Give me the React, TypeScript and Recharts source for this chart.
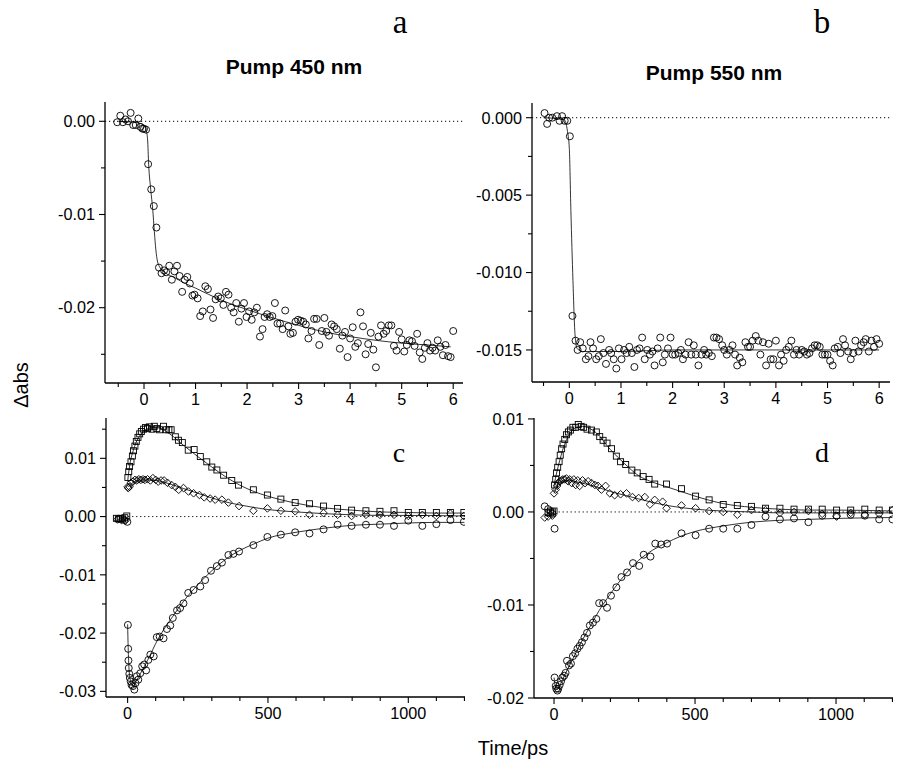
import React from "react";
import {
  ComposedChart, Line, Scatter, XAxis, YAxis, ReferenceLine,
} from "recharts";

type Pt = [number, number];

// ---- panel a: pump 450 nm, short delays ----
const aCircles: Pt[] = [
  [-0.52, -0.0001], [-0.46, 0.0006], [-0.41, -0.0001], [-0.36, 0.0002], [-0.31, 0], [-0.26, 0.0009],
  [-0.21, -0.0004], [-0.16, -0.0004], [-0.11, 0.0003], [-0.07, -0.0006], [-0.03, -0.0008], [0.0, -0.0008],
  [0.04, -0.0009], [0.08, -0.0046], [0.14, -0.0073], [0.19, -0.0091], [0.24, -0.0114], [0.29, -0.0157],
  [0.34, -0.0163], [0.39, -0.016], [0.43, -0.0162], [0.49, -0.0155], [0.54, -0.017], [0.59, -0.0161],
  [0.64, -0.0155], [0.69, -0.0166], [0.74, -0.0183], [0.79, -0.017], [0.84, -0.0167], [0.89, -0.0174],
  [0.94, -0.0187], [0.98, -0.0186], [1.04, -0.019], [1.09, -0.0209], [1.14, -0.0204], [1.19, -0.0177],
  [1.24, -0.018], [1.29, -0.0202], [1.34, -0.0211], [1.39, -0.0191], [1.44, -0.0188], [1.49, -0.019],
  [1.54, -0.0197], [1.59, -0.0183], [1.64, -0.0186], [1.69, -0.02], [1.74, -0.0205], [1.79, -0.0195],
  [1.84, -0.0215], [1.89, -0.0201], [1.94, -0.0195], [1.99, -0.021], [2.04, -0.0204], [2.09, -0.0213],
  [2.14, -0.0205], [2.19, -0.02], [2.25, -0.0231], [2.3, -0.0223], [2.34, -0.021], [2.39, -0.0207],
  [2.44, -0.021], [2.49, -0.0209], [2.54, -0.0195], [2.59, -0.0217], [2.64, -0.0217], [2.69, -0.0223],
  [2.74, -0.0203], [2.8, -0.022], [2.84, -0.0228], [2.89, -0.0227], [2.94, -0.0215], [2.99, -0.0213],
  [3.04, -0.0214], [3.09, -0.0215], [3.14, -0.0218], [3.19, -0.0233], [3.25, -0.0225], [3.3, -0.0212],
  [3.35, -0.0212], [3.4, -0.024], [3.45, -0.0225], [3.5, -0.0211], [3.54, -0.0226], [3.59, -0.023],
  [3.64, -0.0218], [3.69, -0.022], [3.74, -0.0223], [3.8, -0.0244], [3.85, -0.023], [3.9, -0.0226],
  [3.95, -0.0253], [4.0, -0.0233], [4.05, -0.0221], [4.1, -0.0242], [4.15, -0.0238], [4.2, -0.0205],
  [4.25, -0.022], [4.3, -0.025], [4.35, -0.0239], [4.4, -0.0227], [4.45, -0.0245], [4.5, -0.0264],
  [4.55, -0.0231], [4.6, -0.0219], [4.65, -0.0228], [4.7, -0.0225], [4.75, -0.0219], [4.8, -0.0219],
  [4.85, -0.0241], [4.9, -0.0246], [4.95, -0.0226], [5.0, -0.0234], [5.05, -0.0247], [5.1, -0.024],
  [5.15, -0.0235], [5.2, -0.0236], [5.25, -0.0241], [5.3, -0.0228], [5.35, -0.0248], [5.4, -0.0255],
  [5.45, -0.0243], [5.5, -0.0238], [5.55, -0.0246], [5.6, -0.0243], [5.65, -0.0246], [5.7, -0.0235],
  [5.75, -0.0242], [5.8, -0.0251], [5.85, -0.024], [5.9, -0.0252], [5.95, -0.0253], [6.0, -0.0225],
];
const aFit: Pt[] = [
  [-0.5, 0], [-0.2, -0.0001], [0, -0.0004], [0.04, -0.0009], [0.07, -0.002], [0.09, -0.0046],
  [0.13, -0.0073], [0.17, -0.0095], [0.2, -0.0118], [0.23, -0.0138], [0.26, -0.015], [0.3, -0.0156],
  [0.4, -0.0162], [0.6, -0.0168], [0.8, -0.0174], [1, -0.0179], [1.5, -0.0192], [2, -0.0202],
  [2.5, -0.0211], [3, -0.0219], [3.5, -0.0226], [4, -0.0231], [4.5, -0.0235], [5, -0.0238],
  [5.5, -0.024], [5.95, -0.0242],
];

// ---- panel b: pump 550 nm, short delays ----
const bCircles: Pt[] = [
  [-0.48, 0.0003], [-0.43, -0.0004], [-0.39, 0], [-0.33, 0], [-0.24, 0.0001], [-0.19, -0.0002],
  [-0.14, 0.0001], [-0.09, -0.0002], [-0.04, -0.0002], [0.01, -0.0012], [0.06, -0.0128], [0.12, -0.0144],
  [0.16, -0.015], [0.21, -0.0145], [0.26, -0.0149], [0.32, -0.0156], [0.37, -0.0154], [0.41, -0.0145],
  [0.46, -0.0149], [0.52, -0.0156], [0.57, -0.0154], [0.61, -0.0143], [0.66, -0.0152], [0.71, -0.0159],
  [0.77, -0.015], [0.81, -0.0152], [0.86, -0.0156], [0.91, -0.0162], [0.96, -0.0149], [1.01, -0.0156],
  [1.06, -0.015], [1.11, -0.0152], [1.16, -0.0148], [1.21, -0.0152], [1.26, -0.0161], [1.31, -0.015],
  [1.36, -0.0149], [1.41, -0.0142], [1.46, -0.0156], [1.51, -0.015], [1.56, -0.0153], [1.61, -0.0151],
  [1.65, -0.016], [1.71, -0.0149], [1.76, -0.0142], [1.81, -0.0158], [1.85, -0.0153], [1.91, -0.0149],
  [1.96, -0.0142], [2.0, -0.0153], [2.05, -0.0153], [2.11, -0.0152], [2.16, -0.015], [2.2, -0.0156],
  [2.25, -0.0153], [2.31, -0.0145], [2.36, -0.0153], [2.41, -0.0147], [2.45, -0.0153], [2.5, -0.016],
  [2.56, -0.0153], [2.61, -0.015], [2.65, -0.0153], [2.7, -0.0152], [2.76, -0.0154], [2.8, -0.0142],
  [2.85, -0.0142], [2.9, -0.0143], [2.96, -0.0147], [3.0, -0.015], [3.05, -0.0153], [3.1, -0.015],
  [3.16, -0.0147], [3.21, -0.0153], [3.25, -0.016], [3.3, -0.0155], [3.35, -0.0158], [3.41, -0.0145],
  [3.46, -0.0148], [3.5, -0.0148], [3.55, -0.0144], [3.61, -0.0141], [3.66, -0.0144], [3.7, -0.0153],
  [3.75, -0.0145], [3.81, -0.016], [3.86, -0.0146], [3.9, -0.0156], [3.95, -0.0156], [4.0, -0.0144],
  [4.06, -0.016], [4.1, -0.0153], [4.15, -0.0157], [4.2, -0.015], [4.25, -0.0148], [4.3, -0.0144],
  [4.35, -0.0153], [4.4, -0.015], [4.45, -0.0153], [4.5, -0.015], [4.55, -0.0151], [4.6, -0.0153],
  [4.65, -0.0152], [4.7, -0.0149], [4.75, -0.0147], [4.8, -0.0147], [4.85, -0.0148], [4.9, -0.0153],
  [4.95, -0.0153], [5.0, -0.0153], [5.05, -0.0157], [5.1, -0.016], [5.14, -0.0149], [5.2, -0.0148],
  [5.25, -0.0152], [5.3, -0.0143], [5.34, -0.0147], [5.4, -0.0151], [5.45, -0.0156], [5.5, -0.0152],
  [5.54, -0.0144], [5.6, -0.0151], [5.65, -0.0147], [5.7, -0.0145], [5.74, -0.0143], [5.8, -0.0151],
  [5.85, -0.0144], [5.9, -0.0148], [5.95, -0.0143], [6.0, -0.0146],
];
const bFit: Pt[] = [
  [-0.5, 0], [-0.12, -0.0001], [-0.08, -0.0002], [-0.04, -0.0008], [0, -0.002], [0.03, -0.006],
  [0.07, -0.0105], [0.11, -0.014], [0.15, -0.0149], [0.25, -0.0151], [1, -0.0151], [2, -0.015],
  [3, -0.015], [4, -0.015], [5, -0.015], [6, -0.015],
];

// ---- panel c: pump 450 nm, long delays ----
const cSquares: Pt[] = [
  [-40, -0.0003], [-33, -0.0004], [-26, -0.0003], [-18, -0.0004], [-10, -0.0002], [-3, 0.0001],
  [1, 0.0067], [4, 0.0077], [7, 0.0086], [12, 0.0094], [17, 0.0104], [21, 0.0113], [26, 0.0121],
  [31, 0.0129], [37, 0.0136], [43, 0.0142], [49, 0.0146], [57, 0.015], [64, 0.0153], [71, 0.0151],
  [78, 0.0154], [87, 0.015], [95, 0.0155], [104, 0.0151], [114, 0.0149], [128, 0.0155], [138, 0.0149],
  [147, 0.0149], [155, 0.0149], [170, 0.0137], [181, 0.0131], [195, 0.0127], [216, 0.0114],
  [237, 0.0115], [259, 0.0103], [282, 0.0094], [300, 0.0085], [318, 0.008], [342, 0.0071],
  [371, 0.0062], [395, 0.0054], [448, 0.0046], [498, 0.0037], [546, 0.003], [597, 0.0024],
  [648, 0.0022], [698, 0.0018], [748, 0.0014], [798, 0.0011], [849, 0.001], [899, 0.0009],
  [949, 0.001], [1000, 0.0007], [1050, 0.0007], [1100, 0.0007], [1150, 0.0007], [1198, 0.0007],
];
const cDiamonds: Pt[] = [
  [-36, -0.0005], [-22, -0.0006], [-8, -0.0007],
  [0, 0.0051], [2, 0.0049], [7, 0.0051], [12, 0.0058], [19, 0.006], [26, 0.0063], [33, 0.0062],
  [40, 0.0064], [47, 0.0063], [55, 0.0064], [62, 0.0063], [71, 0.0064], [81, 0.0062], [90, 0.0066],
  [100, 0.0063], [109, 0.006], [119, 0.0062], [130, 0.0062], [142, 0.0058], [157, 0.0054],
  [170, 0.0051], [182, 0.0046], [199, 0.0049], [217, 0.0043], [235, 0.004], [256, 0.0037],
  [273, 0.0033], [294, 0.0031], [312, 0.0029], [336, 0.0029], [359, 0.0024], [397, 0.0018],
  [448, 0.001], [498, 0.0014], [546, 0.001], [597, 0.0009], [648, 0.0003], [698, 0.0006],
  [748, 0.0003], [798, 0.0001], [849, 0.0003], [899, 0.0003], [949, 0.0003], [1000, 0.0001],
  [1050, 0.0003], [1100, 0.0001], [1150, 0.0005], [1198, 0.0001],
];
const cCircles: Pt[] = [
  [-30, -0.0004], [-12, -0.0006], [-1, -0.0009],
  [1, -0.0186], [2, -0.0227], [3, -0.0247], [4, -0.026], [6, -0.027], [8, -0.0277], [11, -0.0283],
  [14, -0.0289], [19, -0.0291], [24, -0.0297], [28, -0.0286], [33, -0.0274], [38, -0.028],
  [45, -0.0269], [52, -0.0257], [59, -0.0254], [66, -0.0264], [74, -0.0246], [81, -0.0237],
  [93, -0.024], [104, -0.0207], [114, -0.0206], [128, -0.0209], [140, -0.0193], [152, -0.0187],
  [161, -0.0174], [176, -0.0161], [187, -0.0157], [199, -0.0149], [216, -0.0131], [235, -0.0126],
  [259, -0.012], [276, -0.0109], [297, -0.0093], [318, -0.0085], [336, -0.0079], [359, -0.0066],
  [377, -0.0064], [397, -0.006], [448, -0.0049], [498, -0.0035], [546, -0.0031], [597, -0.0027],
  [648, -0.0029], [698, -0.0022], [748, -0.0014], [798, -0.0016], [849, -0.0014], [899, -0.0014],
  [949, -0.0016], [1000, -0.0007], [1050, -0.0016], [1100, -0.0013], [1150, -0.0006], [1198, -0.0009],
];
const cSquareFit: Pt[] = [
  [0, 0.006], [5, 0.008], [10, 0.0095], [20, 0.0113], [30, 0.0127], [45, 0.014], [60, 0.0148],
  [80, 0.0152], [100, 0.0153], [125, 0.015], [150, 0.0142], [200, 0.0122], [250, 0.0103],
  [300, 0.0085], [350, 0.0068], [400, 0.0054], [450, 0.0043], [500, 0.0035], [600, 0.0023],
  [700, 0.0015], [800, 0.0011], [900, 0.0008], [1000, 0.0007], [1100, 0.0006], [1200, 0.0006],
];
const cDiamondFit: Pt[] = [
  [0, 0.0052], [5, 0.0052], [15, 0.0057], [30, 0.0061], [60, 0.0063], [100, 0.0062], [150, 0.0056],
  [200, 0.0048], [250, 0.004], [300, 0.0032], [350, 0.0025], [400, 0.002], [500, 0.0012],
  [600, 0.0008], [700, 0.0005], [800, 0.0003], [900, 0.0002], [1000, 0.0002], [1200, 0.0001],
];
const cCircleFit: Pt[] = [
  [0, -0.0185], [2, -0.0225], [5, -0.0262], [10, -0.0282], [15, -0.029], [22, -0.029], [30, -0.0283],
  [45, -0.027], [60, -0.0257], [80, -0.0238], [100, -0.0218], [130, -0.0193], [160, -0.0172],
  [200, -0.0145], [250, -0.0117], [300, -0.0093], [350, -0.0073], [400, -0.0058], [450, -0.0047],
  [500, -0.0037], [600, -0.0027], [700, -0.002], [800, -0.0015], [900, -0.0013], [1000, -0.0011],
  [1100, -0.001], [1200, -0.001],
];

// ---- panel d: pump 550 nm, long delays ----
const dSquares: Pt[] = [
  [-21, -0.0001], [-13, -0.0001], [-6, 0], [0, 0.0001],
  [2, 0.0029], [6, 0.0035], [9, 0.0042], [13, 0.0048], [18, 0.0054], [22, 0.0061], [27, 0.0068],
  [32, 0.0073], [38, 0.0078], [44, 0.0083], [51, 0.0086], [58, 0.0088], [67, 0.0091], [77, 0.0091],
  [86, 0.0094], [96, 0.0092], [105, 0.0091], [117, 0.0089], [133, 0.0088], [150, 0.0086],
  [162, 0.0081], [174, 0.0077], [188, 0.0074], [204, 0.0068], [221, 0.006], [236, 0.0054],
  [254, 0.0051], [276, 0.0045], [295, 0.0042], [316, 0.0038], [337, 0.0035], [357, 0.003],
  [399, 0.003], [452, 0.0025], [502, 0.0017], [550, 0.0013], [600, 0.0008], [650, 0.0007],
  [700, 0.0006], [750, 0.0004], [801, 0.0004], [851, 0.0003], [902, 0.0003], [951, 0.0003],
  [1002, 0.0002], [1052, 0.0002], [1102, 0.0003], [1153, 0.0002], [1200, 0.0002],
];
const dDiamonds: Pt[] = [
  [-33, -0.0006], [-21, -0.0005], [-6, -0.0004],
  [0, 0.002], [6, 0.0024], [11, 0.0028], [15, 0.0031], [20, 0.0033], [26, 0.0034], [32, 0.0035],
  [38, 0.0035], [44, 0.0036], [50, 0.0033], [56, 0.0035], [63, 0.0031], [70, 0.0035], [77, 0.0029],
  [84, 0.0034], [91, 0.0028], [101, 0.0034], [110, 0.0031], [121, 0.0033], [133, 0.0031],
  [145, 0.0029], [156, 0.0028], [168, 0.0024], [183, 0.0028], [198, 0.002], [215, 0.0018],
  [236, 0.0019], [257, 0.002], [278, 0.0016], [300, 0.0015], [322, 0.0016], [340, 0.0008],
  [357, 0.0013], [385, 0.0011], [399, 0.0004], [452, 0.0007], [502, 0.0004], [550, 0.0001],
  [600, 0], [650, -0.0003], [700, 0.0002], [750, 0.0002], [801, -0.0001], [851, 0], [902, 0.0001],
  [951, -0.0002], [1002, -0.0005], [1052, -0.0001], [1102, -0.0003], [1153, -0.0002], [1200, 0.0002],
];
const dCircles: Pt[] = [
  [-33, 0.0006], [-21, 0.0003], [-13, 0.0001], [-6, -0.0002], [2, -0.0018],
  [2, -0.0178], [6, -0.0187], [8, -0.019], [12, -0.0192], [15, -0.019], [20, -0.0186], [25, -0.0182],
  [30, -0.0178], [36, -0.0176], [41, -0.0173], [46, -0.016], [53, -0.0165], [60, -0.0163],
  [67, -0.0155], [75, -0.0152], [83, -0.0147], [91, -0.0144], [99, -0.014], [108, -0.0135],
  [117, -0.013], [127, -0.0122], [138, -0.0119], [150, -0.0115], [160, -0.0098], [174, -0.0098],
  [188, -0.0103], [202, -0.009], [221, -0.0081], [239, -0.007], [259, -0.0065], [280, -0.0055],
  [302, -0.0058], [318, -0.0046], [342, -0.0048], [359, -0.0034], [380, -0.0035], [401, -0.0034],
  [452, -0.0023], [502, -0.0025], [550, -0.0018], [600, -0.0018], [650, -0.0018], [700, -0.0014],
  [750, -0.0005], [801, -0.0008], [851, -0.0007], [902, -0.0011], [951, -0.0004], [1002, -0.0004],
  [1052, -0.0003], [1102, -0.0004], [1153, -0.0008], [1200, -0.0008],
];
const dSquareFit: Pt[] = [
  [0, 0.0028], [5, 0.0036], [10, 0.0043], [20, 0.0055], [30, 0.0066], [45, 0.0078], [60, 0.0086],
  [80, 0.0091], [100, 0.0092], [125, 0.009], [150, 0.0085], [200, 0.0067], [250, 0.0052],
  [300, 0.0039], [350, 0.0032], [400, 0.0027], [450, 0.0022], [500, 0.0017], [600, 0.0009],
  [700, 0.0005], [800, 0.0003], [900, 0.0002], [1000, 0.0002], [1200, 0.0001],
];
const dDiamondFit: Pt[] = [
  [0, 0.002], [10, 0.0027], [20, 0.0031], [40, 0.0034], [70, 0.0033], [100, 0.0031], [150, 0.0027],
  [200, 0.0022], [250, 0.0018], [300, 0.0014], [400, 0.0007], [500, 0.0003], [600, 0.0001],
  [700, 0], [800, -0.0001], [1000, -0.0001], [1200, -0.0001],
];
const dCircleFit: Pt[] = [
  [0, -0.0178], [5, -0.0188], [10, -0.0191], [15, -0.019], [25, -0.0184], [40, -0.0174],
  [60, -0.0162], [80, -0.015], [100, -0.0138], [130, -0.0122], [160, -0.0106], [200, -0.0088],
  [250, -0.0068], [300, -0.0052], [350, -0.0041], [400, -0.0033], [450, -0.0026], [500, -0.0021],
  [600, -0.0015], [700, -0.0011], [800, -0.0009], [900, -0.0008], [1000, -0.0007], [1200, -0.0006],
];

// ---- ticks ----
const xTicksShort = [-0.5, 0, 0.5, 1, 1.5, 2, 2.5, 3, 3.5, 4, 4.5, 5, 5.5, 6];
const xMajorShort = [0, 1, 2, 3, 4, 5, 6];
const xTicksLong = [0, 100, 200, 300, 400, 500, 600, 700, 800, 900, 1000, 1100, 1200];
const xMajorLong = [0, 500, 1000];
const yTicksA = [-0.025, -0.02, -0.015, -0.01, -0.005, 0];
const yMajorA = [-0.02, -0.01, 0];
const yTicksB = [-0.015, -0.0125, -0.01, -0.0075, -0.005, -0.0025, 0];
const yMajorB = [-0.015, -0.01, -0.005, 0];
const yTicksC = [-0.03, -0.025, -0.02, -0.015, -0.01, -0.005, 0, 0.005, 0.01, 0.015];
const yMajorC = [-0.03, -0.02, -0.01, 0, 0.01];
const yTicksD = [-0.02, -0.015, -0.01, -0.005, 0, 0.005, 0.01];
const yMajorD = [-0.02, -0.01, 0, 0.01];

const FONT = "'Liberation Sans', Arial, sans-serif";
const SERIF = "'Liberation Serif', 'Times New Roman', serif";
const TICK_FS = 16.2;

const toPts = (a: Pt[]) => a.map(([x, y]) => ({ x, y }));
const isMajor = (v: number, majors: number[]) => majors.some((m) => Math.abs(m - v) < 1e-9);

const makeYTick = (majors: number[], digits: number) => (props: any) => {
  const { x, y, payload } = props;
  const major = isMajor(payload.value, majors);
  const v = payload.value;
  return (
    <g>
      <line x1={x} x2={x - (major ? 6 : 4)} y1={y} y2={y} stroke="#000" strokeWidth={1.1} />
      {major && (
        <text x={x - 10} y={y + 5.8} textAnchor="end" fontSize={TICK_FS} fontFamily={FONT} fill="#000">
          {Math.abs(v) < 1e-12 ? (0).toFixed(digits) : v.toFixed(digits)}
        </text>
      )}
    </g>
  );
};

const makeXTick = (majors: number[]) => (props: any) => {
  const { x, y, payload } = props;
  const major = isMajor(payload.value, majors);
  return (
    <g>
      <line x1={x} x2={x} y1={y} y2={y + (major ? 6 : 4)} stroke="#000" strokeWidth={1.1} />
      {major && (
        <text x={x} y={y + 22} textAnchor="middle" fontSize={TICK_FS} fontFamily={FONT} fill="#000">
          {String(payload.value)}
        </text>
      )}
    </g>
  );
};

const CircleMark = (p: any) => <circle cx={p.cx} cy={p.cy} r={3.5} fill="none" stroke="#000" strokeWidth={0.9} />;
const SquareMark = (p: any) => <rect x={p.cx - 3} y={p.cy - 3} width={6} height={6} fill="none" stroke="#000" strokeWidth={0.9} />;
const DiamondMark = (p: any) => (
  <polygon
    points={`${p.cx},${p.cy - 3.8} ${p.cx + 3.8},${p.cy} ${p.cx},${p.cy + 3.8} ${p.cx - 3.8},${p.cy}`}
    fill="none" stroke="#000" strokeWidth={0.9}
  />
);

interface Series { pts: Pt[]; fit: Pt[]; mark: (p: any) => React.ReactElement }

interface PanelProps {
  left: number; top: number; plotW: number; plotH: number;
  xDomain: [number, number]; yDomain: [number, number];
  xTicks: number[]; xMajor: number[]; yTicks: number[]; yMajor: number[]; yDigits: number;
  series: Series[]; zeroFrom?: number;
}

const YW = 70;
const XH = 30;
const MT = 14;
const MR = 5;

const Panel = (p: PanelProps) => (
  <div style={{ position: "absolute", left: p.left - YW, top: p.top - MT }}>
    <ComposedChart
      width={YW + p.plotW + MR}
      height={MT + p.plotH + XH}
      margin={{ top: MT, right: MR, left: 0, bottom: 0 }}
    >
      <XAxis
        dataKey="x" type="number" domain={p.xDomain} allowDataOverflow ticks={p.xTicks} interval={0}
        height={XH} tickSize={0} tickMargin={0} tickLine={false}
        axisLine={{ stroke: "#000", strokeWidth: 1.3 }} tick={makeXTick(p.xMajor)}
      />
      <YAxis
        dataKey="y" type="number" domain={p.yDomain} allowDataOverflow ticks={p.yTicks} interval={0}
        width={YW} tickSize={0} tickMargin={0} tickLine={false}
        axisLine={{ stroke: "#000", strokeWidth: 1.3 }} tick={makeYTick(p.yMajor, p.yDigits)}
      />
      {p.zeroFrom === undefined ? (
        <ReferenceLine y={0} stroke="#000" strokeWidth={1} strokeDasharray="1.2 2.8" />
      ) : (
        <ReferenceLine
          segment={[{ x: p.zeroFrom, y: 0 }, { x: p.xDomain[1], y: 0 }]}
          stroke="#000" strokeWidth={1} strokeDasharray="1.2 2.8"
        />
      )}
      {p.series.map((s, i) => (
        <Line
          key={`fit${i}`} data={toPts(s.fit)} dataKey="y" type="monotone" stroke="#000"
          strokeWidth={0.8} dot={false} activeDot={false} isAnimationActive={false}
        />
      ))}
      {p.series.map((s, i) => (
        <Scatter key={`pts${i}`} data={toPts(s.pts)} dataKey="y" shape={s.mark} isAnimationActive={false} />
      ))}
    </ComposedChart>
  </div>
);

export default function App() {
  return (
    <div style={{ position: "absolute", left: 0, top: 0, width: 907, height: 759, background: "#fff" }}>
      <Panel
        left={105} top={102} plotW={358} plotH={281}
        xDomain={[-0.757, 6.19]} yDomain={[-0.02808, 0.00207]}
        xTicks={xTicksShort} xMajor={xMajorShort} yTicks={yTicksA} yMajor={yMajorA} yDigits={2}
        series={[{ pts: aCircles, fit: aFit, mark: CircleMark }]}
      />
      <Panel
        left={532} top={103} plotW={358} plotH={279}
        xDomain={[-0.723, 6.21]} yDomain={[-0.01707, 0.00095]}
        xTicks={xTicksShort} xMajor={xMajorShort} yTicks={yTicksB} yMajor={yMajorB} yDigits={3}
        series={[{ pts: bCircles, fit: bFit, mark: CircleMark }]}
      />
      <Panel
        left={106} top={418} plotW={359} plotH={279}
        xDomain={[-77, 1202]} yDomain={[-0.03097, 0.01692]}
        xTicks={xTicksLong} xMajor={xMajorLong} yTicks={yTicksC} yMajor={yMajorC} yDigits={2}
        zeroFrom={2}
        series={[
          { pts: cSquares, fit: cSquareFit, mark: SquareMark },
          { pts: cDiamonds, fit: cDiamondFit, mark: DiamondMark },
          { pts: cCircles, fit: cCircleFit, mark: CircleMark },
        ]}
      />
      <Panel
        left={534} top={418} plotW={359} plotH={280}
        xDomain={[-71, 1202]} yDomain={[-0.02, 0.0101]}
        xTicks={xTicksLong} xMajor={xMajorLong} yTicks={yTicksD} yMajor={yMajorD} yDigits={2}
        zeroFrom={2}
        series={[
          { pts: dSquares, fit: dSquareFit, mark: SquareMark },
          { pts: dDiamonds, fit: dDiamondFit, mark: DiamondMark },
          { pts: dCircles, fit: dCircleFit, mark: CircleMark },
        ]}
      />
      <svg width={907} height={759} style={{ position: "absolute", left: 0, top: 0, pointerEvents: "none" }}>
        <text x={294} y={74} textAnchor="middle" fontFamily={FONT} fontWeight="bold" fontSize={21}>Pump 450 nm</text>
        <text x={714} y={80} textAnchor="middle" fontFamily={FONT} fontWeight="bold" fontSize={21}>Pump 550 nm</text>
        <text x={400} y={33} textAnchor="middle" fontFamily={SERIF} fontSize={33}>a</text>
        <text x={822} y={33} textAnchor="middle" fontFamily={SERIF} fontSize={33}>b</text>
        <text x={399} y={462} textAnchor="middle" fontFamily={SERIF} fontSize={28}>c</text>
        <text x={822} y={462} textAnchor="middle" fontFamily={SERIF} fontSize={28}>d</text>
        <text x={28} y={385} textAnchor="middle" fontFamily={FONT} fontSize={20} transform="rotate(-90 28 385)">Δabs</text>
        <text x={513} y={755} textAnchor="middle" fontFamily={FONT} fontSize={20}>Time/ps</text>
      </svg>
    </div>
  );
}
